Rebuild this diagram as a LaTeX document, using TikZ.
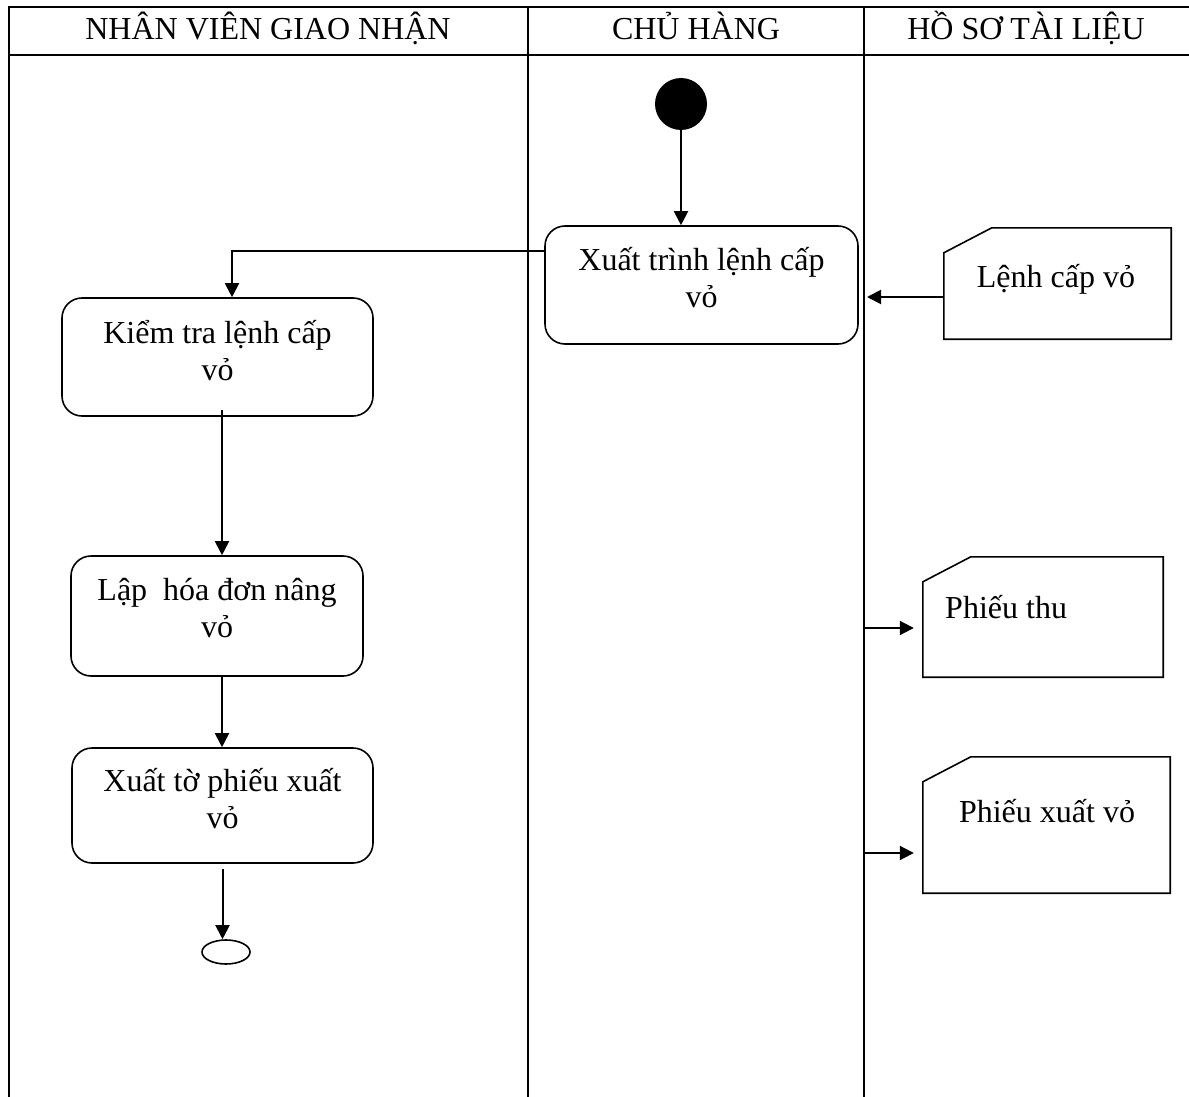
\documentclass[tikz,border=0pt]{standalone}
\usepackage{fontspec}
\setmainfont{Liberation Serif}
\usetikzlibrary{arrows.meta,calc,shapes.geometric}

\begin{document}
\begin{tikzpicture}[x=1pt,y=-1pt,
  lane/.style={line width=2pt},
  txt/.style={font=\fontsize{32}{37}\selectfont, inner sep=0pt, align=center, anchor=base},
  act/.style={draw, line width=1.6pt, rounded corners=20pt, inner sep=0pt},
  docbox/.style={inner sep=0pt, rectangle},
  docline/.style={line width=1.6pt, line join=miter},
  flow/.style={-{Triangle[length=14pt,width=14pt]}, line width=2pt},
]
\useasboundingbox (0,0) rectangle (1189,1097);

% swimlane frame
\draw[lane] (9,1097) -- (9,7) -- (1189,7);
\draw[lane] (9,55) -- (1189,55);
\draw[lane] (528,7) -- (528,1097);
\draw[lane] (864,7) -- (864,1097);

% lane titles
\node[txt] (h1) at (268,40) {NHÂN VIÊN GIAO NHẬN};
\node[txt] (h2) at (696,40) {CHỦ HÀNG};
\node[txt] (h3) at (1026,40) {HỒ SƠ TÀI LIỆU};

% start and end
\node[circle, fill=black, minimum size=52pt, inner sep=0pt] (start) at (681,104) {};
\node[ellipse, draw, line width=1.6pt, minimum width=48pt, minimum height=24pt, inner sep=0pt] (end) at (226,952) {};

% activities (text base = last line)
\node[act, minimum width=313pt, minimum height=118pt] (xt) at (701.5,285) {};
\node[txt] at (701.5,307) {Xuất trình lệnh cấp\\vỏ};
\node[act, minimum width=311pt, minimum height=118pt] (kt) at (217.5,357) {};
\node[txt] at (217.5,380) {Kiểm tra lệnh cấp\\vỏ};
\node[act, minimum width=292pt, minimum height=120pt] (lap) at (217,616) {};
\node[txt] at (217,637) {Lập~ hóa đơn nâng\\vỏ};
\node[act, minimum width=301pt, minimum height=115pt] (xto) at (222.5,805.5) {};
\node[txt] at (222.5,828) {Xuất tờ phiếu xuất\\vỏ};

% documents
\node[docbox, minimum width=227pt, minimum height=111pt] (lenh) at (1057.5,283.5) {};
\node[txt] at (1056,287) {Lệnh cấp vỏ};
\node[docbox, minimum width=240pt, minimum height=120pt] (thu) at (1043,617) {};
\node[txt, anchor=base west] at (945,618) {Phiếu thu};
\node[docbox, minimum width=247pt, minimum height=136pt] (xuat) at (1046.5,825) {};
\node[txt] at (1047,822) {Phiếu xuất vỏ};
\foreach \d in {lenh,thu,xuat}
  \draw[docline] ($(\d.north west)+(0,25)$) -- ($(\d.north west)+(48,0)$)
    -- (\d.north east) -- (\d.south east) -- (\d.south west) -- cycle;

% connectors
\coordinate (inA) at (867,297);
\coordinate (outB) at (865,628);
\coordinate (outC) at (865,853);

\draw[flow] (start.south) -- (start.south |- xt.north);
\draw[flow] ([yshift=34pt]xt.west) -| ([xshift=14.5pt]kt.north);
\draw[flow] ([xshift=4.5pt,yshift=7pt]kt.south) -- ([xshift=4.5pt]kt.south |- lap.north);
\draw[flow] ([xshift=5pt]lap.south) -- ([xshift=5pt]lap.south |- xto.north);
\draw[flow] ([yshift=-5pt]xto.south) -- (xto.south |- end.north);
\draw[flow] (inA -| lenh.west) -- (inA);
\draw[flow, shorten >=9pt] (outB) -- (outB -| thu.west);
\draw[flow, shorten >=9pt] (outC) -- (outC -| xuat.west);
\end{tikzpicture}
\end{document}
